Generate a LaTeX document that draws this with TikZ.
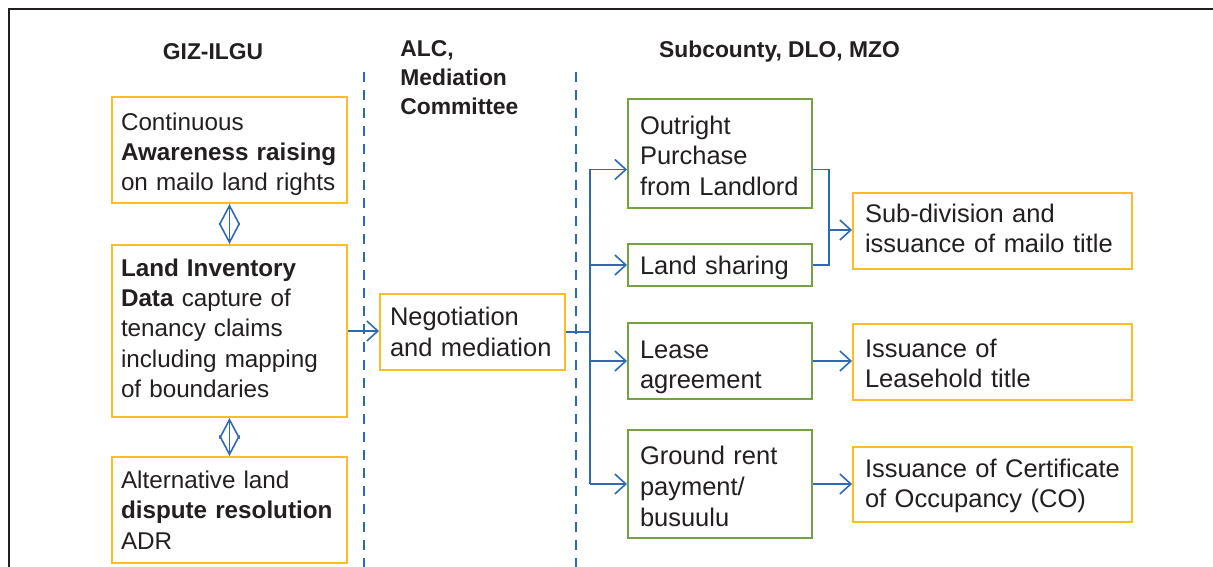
\documentclass[tikz,border=0pt]{standalone}
\usepackage{fontspec}
\setmainfont{Liberation Sans}
\usetikzlibrary{arrows.meta}
\definecolor{boxorange}{RGB}{252,188,36}
\definecolor{boxgreen}{RGB}{114,162,66}
\definecolor{flowblue}{RGB}{46,106,180}
\definecolor{inkgray}{RGB}{35,31,32}
\pgfmathsetlengthmacro\px{0.02cm}
\newcommand\topstrut[1]{\rule{0pt}{#1}}
\newcommand\botstrut[1]{\rule[-#1]{0pt}{0pt}}
\tikzset{
  head/.style = {font=\bfseries\fontsize{13}{16.5}\selectfont, text=inkgray, inner sep=0pt},
  lbox/.style = {draw=boxorange, line width=1.1pt, align=left, text=inkgray, inner ysep=0pt,
                 inner xsep=9*\px, text width=217*\px, minimum height=#1*\px,
                 font=\fontsize{13.8}{17.2}\selectfont},
  mbox/.style = {lbox=#1, inner xsep=10*\px, text width=165*\px, font=\fontsize{14.5}{17.2}\selectfont},
  gbox/.style = {lbox=#1, draw=boxgreen, inner xsep=12*\px, text width=160*\px, font=\fontsize{14.5}{17.4}\selectfont},
  rbox/.style = {lbox=#1, inner xsep=12*\px, text width=255*\px, font=\fontsize{14.5}{17.2}\selectfont},
  flow/.style = {draw=flowblue, line width=0.9pt},
  both/.style = {flow, {Straight Barb[length=0.38cm,width=0.4cm]}-{Straight Barb[length=0.38cm,width=0.4cm]}}
}
\begin{document}
\begin{tikzpicture}[x=0.02cm, y=-0.02cm, >={Straight Barb[length=0.22cm,width=0.4cm]}]
\useasboundingbox (0,0) rectangle (1213,567);
\draw[line width=1.2pt, inkgray] (9,590) -- (9,9) -- (1240,9);
\foreach \xd in {364,576} \draw[flowblue, line width=0.9pt, dash pattern=on 0.2cm off 0.16cm] (\xd,72) -- (\xd,590);
\node[head] (giz) at (213,52) {GIZ-ILGU};
\node[head, anchor=west, align=left] (alc) at (400,77.5) {ALC,\\Mediation\\Committee};
\node[head] (subcounty) at (779.5,52) {Subcounty, DLO, MZO};
\node[lbox=106] (aware) at (229.5,150) {\topstrut{14.7pt}Continuous\\\textbf{Awareness raising}\\on mailo land rights};
\node[lbox=172] (inventory) at (229.5,331) {\textbf{Land Inventory}\\\textbf{Data} capture of\\tenancy claims\\including mapping\\of boundaries\botstrut{3.4pt}};
\node[lbox=106] (adr) at (229.5,510) {Alternative land\\\textbf{dispute resolution}\\ADR};
\node[mbox=76] (nego) at (472.5,332) {Negotiation\\and mediation};
\node[gbox=109] (purchase) at (720,153.5) {\topstrut{12.9pt}Outright\\Purchase\\from Landlord};
\node[gbox=42] (sharing) at (720,265) {\topstrut{14pt}Land sharing};
\node[gbox=76] (lease) at (720,361) {\topstrut{17.4pt}Lease\\agreement};
\node[gbox=108] (rent) at (720,484) {\topstrut{13.2pt}Ground rent\\payment/\\busuulu};
\node[rbox=76] (mailo) at (992.5,231) {Sub-division and\\issuance of mailo title\botstrut{2.8pt}};
\node[rbox=76] (leasehold) at (992.5,362) {\topstrut{12.3pt}Issuance of\\Leasehold title};
\node[rbox=75] (occupancy) at (992.5,484.5) {\topstrut{12.3pt}Issuance of Certificate\\of Occupancy (CO)};
\draw[both] (aware.south) -- (inventory.north);
\draw[both] (inventory.south) -- (adr.north);
\draw[flow,->] (inventory.east) -- (inventory.east -| nego.west);
\coordinate (fork) at (590,332);
\coordinate (pin) at ([yshift=-0.32cm]purchase.west);
\coordinate (pout) at ([yshift=-0.32cm]purchase.east);
\coordinate (merge) at (829,230);
\draw[flow] (nego.east) -- (fork);
\draw[flow] (fork |- pin) -- (fork |- rent.west);
\foreach \t in {pin, sharing.west, lease.west, rent.west} \draw[flow,->] (fork |- \t) -- (\t);
\draw[flow] (pout) -| (merge) |- (sharing.east);
\draw[flow,->] (merge) -- (merge -| mailo.west);
\draw[flow,->] (lease.east) -- (lease.east -| leasehold.west);
\draw[flow,->] (rent.east) -- (rent.east -| occupancy.west);
\end{tikzpicture}
\end{document}
